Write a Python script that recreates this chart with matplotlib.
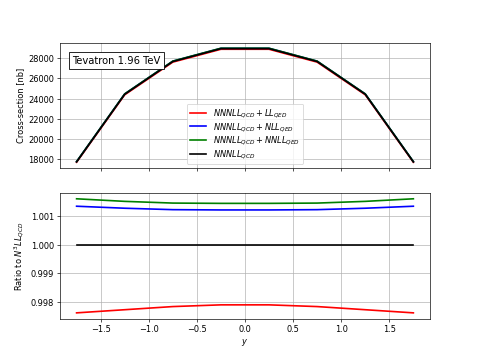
import matplotlib
matplotlib.use('Agg')
from matplotlib import pyplot as plt
import numpy as np

rapidity = [-1.75, -1.25, -0.75, -0.25, 0.25, 0.75, 1.25, 1.75]
xsec_qcd = [17750, 24420, 27650, 28920, 28920, 27650, 24420, 17750]

ratio_ll = [0.99762, 0.99773, 0.99784, 0.99790, 0.99790, 0.99784, 0.99773, 0.99762]
ratio_nll = [1.00135, 1.00128, 1.00123, 1.00122, 1.00122, 1.00123, 1.00128, 1.00135]
ratio_nnll = [1.00161, 1.00152, 1.00146, 1.00145, 1.00145, 1.00146, 1.00152, 1.00161]
ratio_qcd = [1.0] * 8

labels = [r'$NNNLL_{QCD} + LL_{QED}$', r'$NNNLL_{QCD} + NLL_{QED}$',
          r'$NNNLL_{QCD} + NNLL_{QED}$', r'$NNNLL_{QCD}$']
colors = ['red', 'blue', 'green', 'black']
ratios = [ratio_ll, ratio_nll, ratio_nnll, ratio_qcd]

fig, (ax1, ax2) = plt.subplots(2, 1, sharex=True, figsize=(8, 6), dpi=59.75)

for r, c, lab in zip(ratios, colors, labels):
    ax1.plot(rapidity, np.array(xsec_qcd) * np.array(r), color=c, label=lab, linewidth=2)
ax1.set_ylabel('Cross-section [nb]')
ax1.set_yticks([18000, 20000, 22000, 24000, 26000, 28000])
ax1.grid(True)
ax1.legend(loc='lower center', labelspacing=0.1)
ax1.text(0.033, 0.895, 'Tevatron 1.96 TeV', transform=ax1.transAxes, va='top',
         fontsize=12, bbox=dict(facecolor='white', edgecolor='black'))

for r, c in zip(ratios, colors):
    ax2.plot(rapidity, r, color=c, linewidth=2)
ax2.set_ylabel(r'Ratio to $N^3LL_{QCD}$')
ax2.set_xlabel(r'$y$')
ax2.grid(True)

fig.savefig('out.png')
